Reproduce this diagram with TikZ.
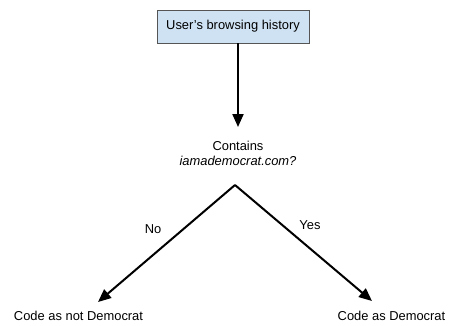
\documentclass[tikz,border=0pt]{standalone}
\usepackage{fontspec}
\setmainfont{Liberation Sans}
\usetikzlibrary{arrows.meta}
\definecolor{boxfill}{HTML}{CFE2F3}
\definecolor{boxline}{HTML}{555555}
\tikzset{
  every node/.style={font=\fontsize{12.9}{15}\selectfont, inner sep=0pt},
  srcbox/.style={draw=boxline, fill=boxfill, line width=0.8pt, minimum width=152pt, minimum height=33pt},
  lbl/.style={align=center},
  conn/.style={line width=2pt, -{Triangle[length=13pt,width=11pt]}},
  plain/.style={line width=2pt}
}
\begin{document}
\begin{tikzpicture}[x=1pt,y=-1pt]
\useasboundingbox (0,0) rectangle (451,325);
\node[srcbox] (src) at (233,26.5) {User’s browsing history};
\node[lbl] (cont) at (238,153) {Contains\\\textit{iamademocrat.com?}};
\coordinate (tip) at (238,127);
\coordinate (apex) at (235,185);
\coordinate (lend) at (98,302);
\coordinate (rend) at (372,301);
\node (notdem) at (78.5,316) {Code as not Democrat};
\node (dem) at (391.5,316) {Code as Democrat};
\node (no) at (153,229) {No};
\node (yes) at (310,225) {Yes};
\draw[conn] (src.south -| tip) -- (tip);
\draw[conn] (apex) -- (lend);
\draw[conn] (apex) -- (rend);
\end{tikzpicture}
\end{document}
